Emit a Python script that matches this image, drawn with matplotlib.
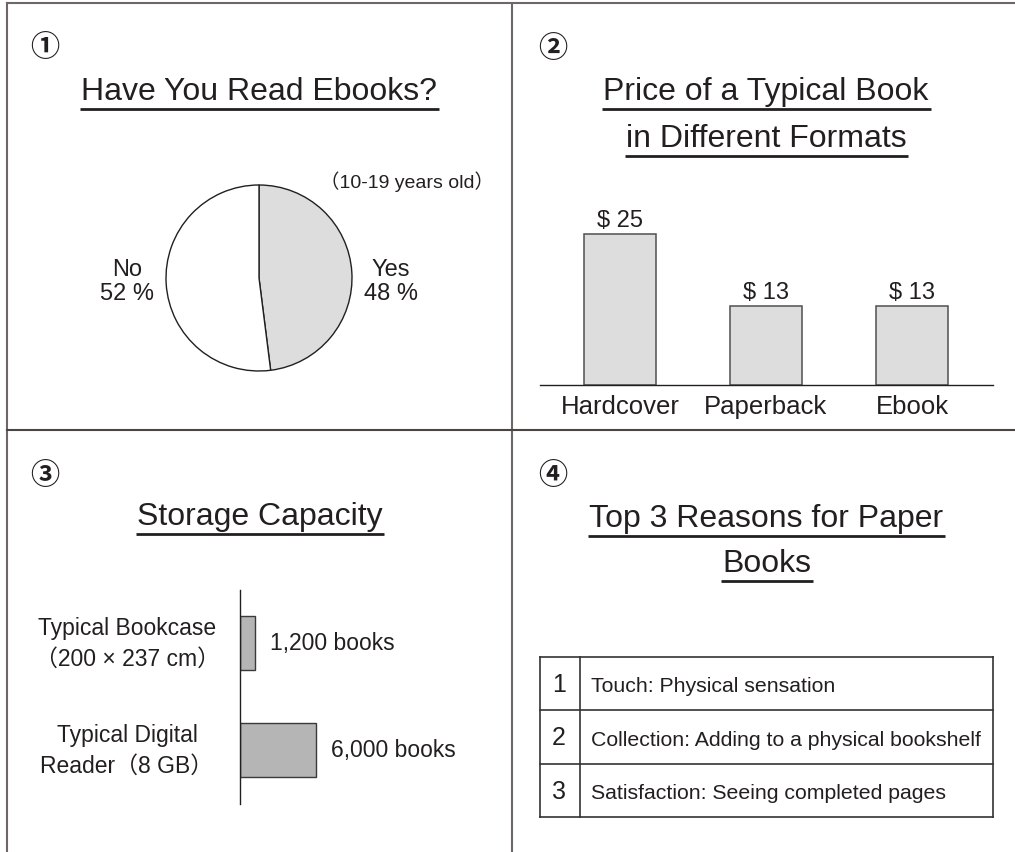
import matplotlib
matplotlib.use("Agg")
import matplotlib.pyplot as plt
from matplotlib.lines import Line2D

plt.rcParams['font.family'] = ['Liberation Sans', 'Noto Sans CJK JP', 'DejaVu Sans']

# ---------------- data ----------------
panel_marks = ["①", "②", "③", "④"]

pie_title = "Have You Read Ebooks?"
pie_note = "（10-19 years old）"
pie_labels = ["Yes", "No"]
pie_values = [48, 52]

price_title = ["Price of a Typical Book", "in Different Formats"]
price_cats = ["Hardcover", "Paperback", "Ebook"]
price_values = [25, 13, 13]

storage_title = "Storage Capacity"
storage_cats = ["Typical Bookcase\n（200 × 237 cm）", "Typical Digital\nReader（8 GB）"]
storage_values = [1200, 6000]

reasons_title = ["Top 3 Reasons for Paper", "Books"]
reason_ranks = ["1", "2", "3"]
reason_texts = ["Touch: Physical sensation",
                "Collection: Adding to a physical bookshelf",
                "Satisfaction: Seeing completed pages"]

# ---------------- layout helpers ----------------
W, H = 1015, 853
TXT = "#231f20"
fig = plt.figure(figsize=(W / 100, H / 100), dpi=100)
fig.patch.set_facecolor("white")


def frac(x0, y0, x1, y1):
    """pixel box (top-left origin) -> figure fraction rect"""
    return [x0 / W, 1 - y1 / H, (x1 - x0) / W, (y1 - y0) / H]


ov = fig.add_axes([0, 0, 1, 1])
ov.set_xlim(0, W)
ov.set_ylim(H, 0)
ov.axis("off")
ov.set_zorder(-1)

# frame lines
bc = "#6d6867"
ov.add_line(Line2D([7, W], [4, 4], color=bc, lw=1.5))
ov.add_line(Line2D([7, 7], [4, H], color=bc, lw=1.5))
ov.add_line(Line2D([512.5, 512.5], [4, H], color=bc, lw=1.5))
ov.add_line(Line2D([7, W], [431, 431], color="#4a4543", lw=1.5))

# circled numbers
for mark, (x, y) in zip(panel_marks, [(45, 47), (553, 48), (45, 475), (553, 475)]):
    ov.text(x, y, mark, fontsize=21, ha="center", va="center", color=TXT,
            fontweight="bold", family=["Noto Sans CJK JP", "DejaVu Sans"])

# titles with underlines
titles = []


def title(txt, x, y):
    t = ov.text(x, y, txt, fontsize=23, ha="center", va="baseline", color=TXT)
    titles.append((t, y + 10))


title(pie_title, 259, 100)
title(price_title[0], 766, 100)
title(price_title[1], 766, 147)
title(storage_title, 259.5, 525)
title(reasons_title[0], 766, 527)
title(reasons_title[1], 766.5, 572)

# ---------------- panel 1: pie ----------------
R = 93
cx, cy = 259, 279
ext = 1.05
axp = fig.add_axes(frac(cx - R * ext, cy - R * ext, cx + R * ext, cy + R * ext))
wedges, _ = axp.pie(pie_values, startangle=90, counterclock=False,
                    colors=["#dcdddc", "white"],
                    wedgeprops=dict(edgecolor=TXT, linewidth=1.0))
axp.set_xlim(-ext, ext)
axp.set_ylim(-ext, ext)
axp.set_aspect("equal")
axp.axis("off")
for lab, val, xpos in zip(pie_labels, pie_values, [1.42, -1.42]):
    axp.text(xpos, -0.03, f"{lab}\n{val} %", ha="center", va="center",
             fontsize=17, color=TXT, linespacing=1.15, clip_on=False)
ov.text(407, 188, pie_note, fontsize=14, ha="center", va="baseline", color=TXT)

# ---------------- panel 2: price bars ----------------
base_y = 386
top_y = 200
px_per_unit = 151 / 25
axb = fig.add_axes(frac(540, top_y, 993, base_y))
xs = list(range(len(price_cats)))
bars = axb.bar(xs, price_values, width=72 / 146, color="#dcdddc",
               edgecolor="#505050", linewidth=1.1)
axb.set_xlim(-80 / 146, 2 + 81 / 146)
axb.set_ylim(0, (base_y - top_y) / px_per_unit)
for s in ["top", "right", "left"]:
    axb.spines[s].set_visible(False)
axb.spines["bottom"].set_color(TXT)
axb.spines["bottom"].set_linewidth(1.0)
axb.set_yticks([])
axb.set_xticks(xs, labels=price_cats)
axb.tick_params(axis="x", length=0, pad=6.5, labelsize=18.5, labelcolor=TXT)
for x, v in zip(xs, price_values):
    axb.annotate(f"$ {v}", xy=(x, v), xytext=(0, 6), textcoords="offset points",
                 ha="center", va="baseline", fontsize=17, color=TXT)

# ---------------- panel 3: storage bars ----------------
px_per_book = 76 / 6000
axs = fig.add_axes(frac(240, 591, 500, 805))
ys = list(range(len(storage_cats)))
axs.barh(ys, storage_values, height=54 / 107, color="#b5b5b5",
         edgecolor="#3a3a3a", linewidth=1.0)
axs.set_xlim(0, 260 / px_per_book)
axs.set_ylim(1 + 54 / 107, -53 / 107)
for s in ["top", "right", "bottom"]:
    axs.spines[s].set_visible(False)
axs.spines["left"].set_color(TXT)
axs.spines["left"].set_linewidth(1.0)
axs.set_xticks([])
axs.set_yticks(ys, labels=storage_cats)
axs.tick_params(axis="y", length=0, pad=113 * 0.72, labelsize=16.5, labelcolor=TXT)
for lab in axs.get_yticklabels():
    lab.set_horizontalalignment("center")
    lab.set_verticalalignment("center")
    lab.set_multialignment("center")
    lab.set_linespacing(1.45)
for y, v in zip(ys, storage_values):
    axs.annotate(f"{v:,} books", xy=(v, y), xytext=(10.5, 0), textcoords="offset points",
                 ha="left", va="center", fontsize=16.5, color=TXT)

# ---------------- panel 4: table ----------------
axt = fig.add_axes(frac(540, 658, 993, 818))
n = len(reason_ranks)
axt.set_xlim(0, 453)
axt.set_ylim(n, 0)
axt.axis("off")
lc = "#333333"
for i in range(n + 1):
    axt.axhline(i, color=lc, lw=1.2, clip_on=False)
for xv in [0, 39.5, 453]:
    axt.axvline(xv, color=lc, lw=1.2, clip_on=False)
row_h_px = 160 / n
for i, (rk, tx) in enumerate(zip(reason_ranks, reason_texts)):
    axt.text(19, i + 34 / row_h_px, rk, ha="center", va="baseline",
             fontsize=18, color=TXT)
    axt.text(51, i + 34.5 / row_h_px, tx, ha="left", va="baseline",
             fontsize=15.3, color=TXT)

# underlines under titles
fig.canvas.draw()
r = fig.canvas.get_renderer()
for t, uy in titles:
    bb = t.get_window_extent(renderer=r)
    ov.add_line(Line2D([bb.x0 - 1, bb.x1 + 2], [uy, uy], color=TXT, lw=2.0,
                       solid_capstyle="butt"))

fig.savefig("out.png", dpi=100)
